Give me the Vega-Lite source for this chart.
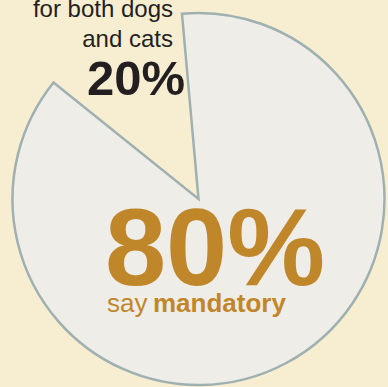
{
  "$schema": "https://vega.github.io/schema/vega-lite/v6.json",
  "width": 375,
  "height": 374,
  "padding": {"left": 11, "top": 12, "right": 2, "bottom": 1},
  "autosize": {"type": "none"},
  "background": "#f7eed2",
  "view": {"stroke": null},
  "data": {
    "values": [
      {"group": "mandatory", "value": 80, "pct": "80%", "lead": "say", "desc": "mandatory"},
      {"group": "for both dogs and cats", "value": 20, "pct": "20%", "lead": "", "desc": "for both dogs\nand cats"}
    ]
  },
  "layer": [
    {
      "mark": {"type": "arc", "radius": 186, "fill": "#efede8", "stroke": "#9fb0b0", "strokeWidth": 2.5},
      "encoding": {
        "theta": {"field": "value", "type": "quantitative", "stack": true, "scale": {"domain": [0, 100], "range": [-0.089, 6.759]}},
        "order": {"field": "value", "sort": "descending"},
        "opacity": {"condition": {"test": "datum.group === 'mandatory'", "value": 1}, "value": 0}
      }
    },
    {
      "transform": [{"filter": "datum.group === 'mandatory'"}],
      "mark": {"type": "text", "align": "center", "baseline": "alphabetic", "dx": 16.5, "dy": 86, "fontSize": 110, "fontWeight": "bold", "font": "Liberation Sans", "color": "#c0872a"},
      "encoding": {"text": {"field": "pct"}}
    },
    {
      "transform": [{"filter": "datum.group === 'mandatory'"}],
      "mark": {"type": "text", "align": "left", "baseline": "alphabetic", "dx": -91.5, "dy": 113, "fontSize": 26, "font": "Liberation Sans", "color": "#c0872a"},
      "encoding": {"text": {"field": "lead"}}
    },
    {
      "transform": [{"filter": "datum.group === 'mandatory'"}],
      "mark": {"type": "text", "align": "left", "baseline": "alphabetic", "dx": -45.5, "dy": 113, "fontSize": 26, "fontWeight": "bold", "font": "Liberation Sans", "color": "#c0872a"},
      "encoding": {"text": {"field": "desc"}}
    },
    {
      "transform": [{"filter": "datum.group !== 'mandatory'"}],
      "mark": {"type": "text", "align": "right", "baseline": "alphabetic", "dx": -13.5, "dy": -104, "fontSize": 49, "fontWeight": "bold", "font": "Liberation Sans", "color": "#231f20"},
      "encoding": {"text": {"field": "pct"}}
    },
    {
      "transform": [{"filter": "datum.group !== 'mandatory'"}],
      "mark": {"type": "text", "align": "right", "baseline": "alphabetic", "dx": -25.5, "dy": -182, "fontSize": 24, "lineBreak": "\n", "lineHeight": 30, "font": "Liberation Sans", "color": "#231f20"},
      "encoding": {"text": {"field": "desc"}}
    }
  ]
}
